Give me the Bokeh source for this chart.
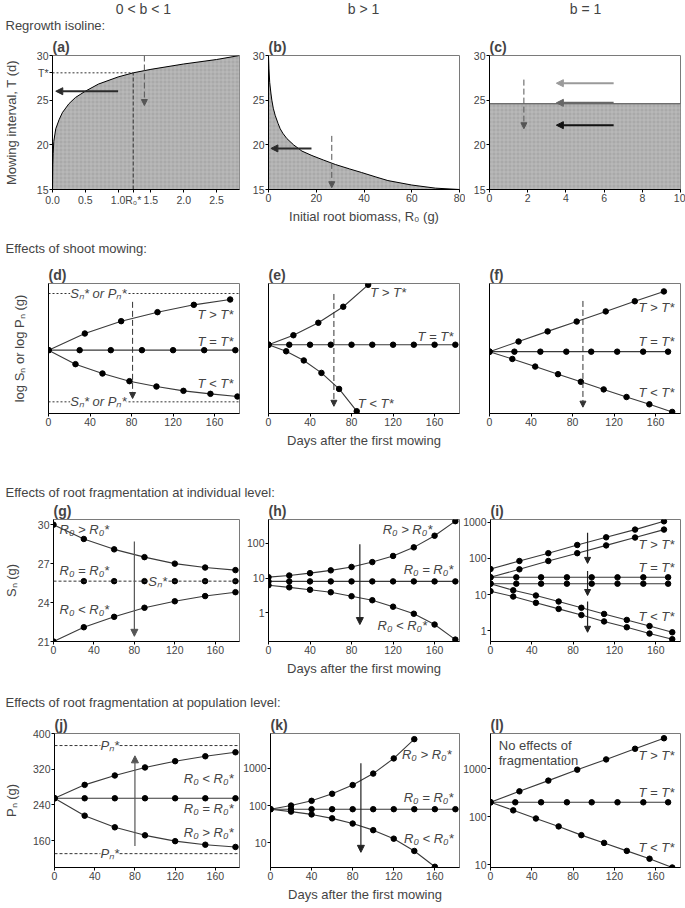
from bokeh.plotting import figure
from bokeh.layouts import column, row
from bokeh.models import Range1d, Label, Arrow, NormalHead, FixedTicker, NumeralTickFormatter, Span
from bokeh.embed import file_html
from bokeh.resources import INLINE

FONT = "Liberation Sans"

# ---------------- data ----------------
# (a) 0 < b < 1 regrowth isoline
a_R0 = [0, 0.005, 0.01, 0.02, 0.05, 0.1, 0.15, 0.25, 0.35, 0.5, 0.7, 1.0, 1.23, 1.5, 2.0, 2.5, 2.85]
a_T = [15, 17.8, 19.0, 20.4, 21.8, 22.8, 23.6, 24.6, 25.3, 26.0, 26.8, 27.6, 28.06, 28.45, 29.05, 29.55, 30.0]
a_Tstar = 28.06
a_R0star = 1.23
# (b) b > 1
b_R0 = [0, 0.2, 0.5, 1.0, 1.4, 2.0, 2.8, 4.0, 4.9, 6.0, 7.7, 10.5, 14, 18.2, 23, 28, 34, 39, 45, 50, 60, 70, 80]
b_T = [30, 28.5, 27.0, 25.8, 25.0, 24.1, 23.3, 22.4, 21.8, 21.3, 20.7, 20.0, 19.3, 18.8, 18.3, 17.8, 17.3, 16.9, 16.4, 16.0, 15.5, 15.15, 15.0]
# (c) b = 1
c_R0 = [0, 10]
c_T = [24.6, 24.6]
T_MIN = 15

# (d)
d_up_x = [0, 35, 70, 105, 140, 175]
d_up_y = [0, 50, 87, 114, 136, 152]
d_mid_x = [0, 30, 60, 90, 120, 150, 180]
d_mid_y = [0, 0, 0, 0, 0, 0, 0]
d_low_x = [0, 26, 52, 78, 104, 130, 156, 182]
d_low_y = [0, -42, -70, -93, -109, -122, -131, -139]
d_star = [170, -155]
# (e)
e_up_x = [0, 24, 48, 72, 96]
e_up_y = [0, 29, 67, 116, 183]
e_mid_x = [0, 20, 40, 60, 80, 100, 120, 140, 160, 180]
e_mid_y = [0, 0, 0, 0, 0, 0, 0, 0, 0, 0]
e_low_x = [0, 17, 34, 51, 68, 85]
e_low_y = [0, -20, -48, -86, -135, -203]
# (f)
f_up_x = [0, 28, 56, 84, 112, 140, 168]
f_up_y = [0, 32, 64, 95, 127, 159, 190]
f_mid_x = [0, 24, 49, 74, 98, 123, 148, 172]
f_mid_y = [0, 0, 0, 0, 0, 0, 0, 0]
f_low_x = [0, 22, 44, 66, 88, 110, 132, 154, 176]
f_low_y = [0, -23, -47, -71, -95, -119, -143, -166, -190]

# (g)
g_x = [0, 30, 60, 90, 120, 150, 180]
g_up = [30, 28.9, 28.1, 27.5, 27.0, 26.7, 26.5]
g_low = [21, 22.1, 22.9, 23.6, 24.1, 24.5, 24.8]
g_mid_x = [30, 60, 90, 120, 150, 180]
g_mid = [25.65, 25.65, 25.65, 25.65, 25.65, 25.65]
g_star = 25.65
# (h)
h_x = [0, 20, 40, 60, 80, 100, 120, 140, 160, 180]
h_up = [10.6, 11.8, 13.8, 16.6, 20.8, 28.7, 43, 76, 164, 430]
h_mid = [8.0, 8.0, 8.0, 8.0, 8.0, 8.0, 8.0, 8.0, 8.0, 8.0]
h_low = [6.2, 5.4, 4.6, 3.9, 3.0, 2.3, 1.5, 0.94, 0.46, 0.17]
# (i)
i_up_x = [0, 28, 56, 84, 112, 140, 168]
i_up1 = [51, 85, 140, 236, 385, 630, 1070]
i_up2 = [30, 50, 85, 140, 230, 380, 630]
i_mid_x = [0, 25, 49, 74, 98, 123, 148, 172]
i_mid1 = [30, 30, 30, 30, 30, 30, 30, 30]
i_mid2 = [20, 20, 20, 20, 20, 20, 20, 20]
i_low_x = [0, 22, 44, 66, 88, 110, 132, 154, 176]
i_low1 = [20, 13.1, 9.4, 6.4, 4.3, 2.9, 1.98, 1.34, 0.9]
i_low2 = [12.4, 8.8, 5.9, 4.0, 2.7, 1.8, 1.24, 0.83, 0.58]

# (j)
j_x = [0, 30, 60, 90, 120, 150, 180]
j_up = [255, 285, 306, 324, 338, 349, 358]
j_mid = [255, 255, 255, 255, 255, 255, 255]
j_low = [255, 216, 190, 172, 159, 151, 146]
j_star = [373, 131]
# (k)
k_up_x = [0, 20, 40, 60, 80, 100, 120, 140]
k_up = [80, 100, 134, 207, 354, 718, 1830, 6000]
k_mid_x = [0, 20, 40, 60, 80, 100, 120, 140, 160, 180]
k_mid = [80, 80, 80, 80, 80, 80, 80, 80, 80, 80]
k_low_x = [0, 20, 40, 60, 80, 100, 120, 140, 160]
k_low = [80, 69, 58, 45.5, 33, 22, 13, 6.1, 2.3]
# (l)
l_up_x = [0, 28, 56, 84, 112, 140, 168]
l_up = [200, 338, 565, 955, 1560, 2600, 4300]
l_mid_x = [0, 24, 49, 74, 98, 123, 148, 172]
l_mid = [200, 200, 200, 200, 200, 200, 200, 200]
l_low_x = [0, 22, 44, 66, 88, 110, 132, 154, 176]
l_low = [200, 136, 92, 63, 41.5, 28.6, 19.5, 13.4, 8.8]

DAY_TICKS = [0, 40, 80, 120, 160]

LINE_C = "#3a3a3a"
FILL_C = "#a9a9a9"

# ---------------- helpers ----------------
def panel(label, xr, yr, ylog, left, right, top, bottom, fw, fh, xticks, yticks):
    p = figure(width=left + fw + right, height=top + fh + bottom,
               x_range=Range1d(*xr), y_range=Range1d(*yr),
               y_axis_type="log" if ylog else "linear",
               toolbar_location=None, output_backend="svg",
               min_border_left=left, min_border_right=right,
               min_border_top=top, min_border_bottom=bottom, title=label)
    p.title.text_font = FONT
    p.title.text_font_size = "14px"
    p.title.text_font_style = "bold"
    p.title.align = "left"
    p.title.offset = 0
    p.title.standoff = 2
    p.outline_line_color = "#7a7a7a"
    p.outline_line_width = 1
    p.xgrid.visible = False
    p.ygrid.visible = False
    for ax in p.axis:
        ax.axis_line_color = "black"
        ax.major_tick_in = 0
        ax.major_tick_out = 3
        ax.minor_tick_line_color = None
        ax.major_label_text_font = FONT
        ax.major_label_text_font_size = "10.5px"
        ax.axis_label_text_font = FONT
        ax.axis_label_text_font_size = "13px"
        ax.axis_label_text_font_style = "normal"
        ax.major_label_standoff = 1
        ax.axis_label_standoff = 4
    p.xaxis.ticker = FixedTicker(ticks=xticks)
    p.yaxis.ticker = FixedTicker(ticks=yticks)
    return p


def series(p, x, y, lc=LINE_C, dash="solid", dots=True):
    p.line(x, y, line_color=lc, line_width=1.1, line_dash=dash)
    if dots:
        p.scatter(x, y, size=5.5, color="black")


def arrow(p, xs, ys, xe, ye, color="black", width=1.5, dash="solid", head=7):
    p.add_layout(Arrow(end=NormalHead(size=head, fill_color=color, line_color=color),
                       x_start=xs, y_start=ys, x_end=xe, y_end=ye,
                       line_color=color, line_width=width, line_dash=dash))


def lab(p, x, y, text, align="left", italic=True, bg=None, size="13px"):
    kw = {}
    if bg:
        kw = dict(background_fill_color=bg, background_fill_alpha=1.0)
    p.add_layout(Label(x=x, y=y, text=text, text_font=FONT, text_font_size=size,
                       text_font_style="italic" if italic else "normal",
                       text_align=align, text_baseline="middle", **kw))


def strip(h, items):
    p = figure(width=685, height=h, x_range=Range1d(0, 685), y_range=Range1d(0, h),
               toolbar_location=None, output_backend="svg", min_border=0,
               x_axis_type=None, y_axis_type=None)
    p.outline_line_color = None
    for (x, y, t, al, sz) in items:
        p.add_layout(Label(x=x, y=y, text=t, text_font=FONT, text_font_size=sz,
                           text_align=al, text_baseline="middle"))
    return p

FW = 191
# ---------------- row 1 ----------------
R1 = dict(top=22, bottom=42, fh=134)
pa = panel("(a)", (0, 2.85), (15, 30), False, 48, 6, R1["top"], R1["bottom"], FW, R1["fh"],
           [0, 0.5, 1.0, a_R0star, 1.5, 2.0, 2.5], [15, 20, 25, a_Tstar, 30])
pa.xaxis.formatter = NumeralTickFormatter(format="0.0")
pa.xaxis.major_label_overrides = {a_R0star: "R\u2080*"}
pa.yaxis.major_label_overrides = {a_Tstar: "T*"}
pa.yaxis.axis_label = "Mowing interval, T (d)"
pa.yaxis.axis_label_standoff = 15
pa.varea(x=a_R0, y1=T_MIN, y2=a_T, fill_color=FILL_C, hatch_pattern="+",
         hatch_color="#c4c4c4", hatch_scale=4, hatch_weight=0.6)
pa.line(a_R0, a_T, line_color="black", line_width=1)
pa.line([0, a_R0star], [a_Tstar, a_Tstar], line_color="#333", line_dash="2 2", line_width=1)
pa.line([a_R0star, a_R0star], [T_MIN, a_Tstar], line_color="#333", line_dash="4 2", line_width=1)
arrow(pa, 1.0, 26.0, 0.05, 26.0, color="#2b2b2b", width=2)
arrow(pa, 1.4, 30.0, 1.4, 24.4, color="#555", width=1, dash="6 3", head=6)

pb = panel("(b)", (0, 80), (15, 30), False, 23, 6, R1["top"], R1["bottom"], FW, R1["fh"],
           [0, 20, 40, 60, 80], [15, 20, 25, 30])
pb.xaxis.axis_label = "Initial root biomass, R\u2080 (g)"
pb.varea(x=b_R0, y1=T_MIN, y2=b_T, fill_color=FILL_C, hatch_pattern="+",
         hatch_color="#c4c4c4", hatch_scale=4, hatch_weight=0.6)
pb.line(b_R0, b_T, line_color="black", line_width=1)
arrow(pb, 18, 19.6, 1, 19.6, color="#2b2b2b", width=2)
arrow(pb, 26.5, 21.0, 26.5, 15.2, color="#555", width=1, dash="6 3", head=6)

pc = panel("(c)", (0, 10), (15, 30), False, 24, 5, R1["top"], R1["bottom"], FW, R1["fh"],
           [0, 2, 4, 6, 8, 10], [15, 20, 25, 30])
pc.varea(x=c_R0, y1=T_MIN, y2=c_T, fill_color=FILL_C, hatch_pattern="+",
         hatch_color="#c4c4c4", hatch_scale=4, hatch_weight=0.6)
pc.line(c_R0, c_T, line_color="#444", line_width=1.2)
arrow(pc, 6.5, 26.9, 3.5, 26.9, color="#9a9a9a", width=2)
arrow(pc, 6.5, 24.7, 3.5, 24.7, color="#666", width=2)
arrow(pc, 6.5, 22.2, 3.5, 22.2, color="#111", width=2)
arrow(pc, 1.8, 27.3, 1.8, 21.8, color="#555", width=1, dash="6 3", head=6)

# ---------------- row 2 ----------------
R2 = dict(top=25, bottom=42, fh=130)
pd_ = panel("(d)", (0, 184), (-190, 200), False, 48, 1, R2["top"], R2["bottom"], FW, R2["fh"], DAY_TICKS, [])
pd_.yaxis.axis_label = "log S\u2099 or log P\u2099 (g)"
pd_.yaxis.axis_label_standoff = 22
for s in d_star:
    pd_.add_layout(Span(location=s, dimension="width", line_color="#333", line_dash="2 2", line_width=1))
series(pd_, d_up_x, d_up_y)
series(pd_, d_mid_x, d_mid_y)
series(pd_, d_low_x, d_low_y)
arrow(pd_, 81, 145, 81, -145, color="#333", width=1, dash="6 3", head=6)
lab(pd_, 48, d_star[0], "S\u2099* or P\u2099*", "center", bg="white")
lab(pd_, 48, d_star[1], "S\u2099* or P\u2099*", "center", bg="white")
lab(pd_, 178, 108, "T > T*", "right")
lab(pd_, 178, 26, "T = T*", "right")
lab(pd_, 178, -100, "T < T*", "right")

pe = panel("(e)", (0, 184), (-210, 187), False, 28, 1, R2["top"], R2["bottom"], FW, R2["fh"], DAY_TICKS, [])
pe.xaxis.axis_label = "Days after the first mowing"
series(pe, e_up_x, e_up_y)
series(pe, e_mid_x, e_mid_y)
series(pe, e_low_x, e_low_y)
arrow(pe, 63, 155, 63, -188, color="#333", width=1, dash="6 3", head=6)
lab(pe, 98, 160, "T > T*", "left")
lab(pe, 178, 24, "T = T*", "right")
lab(pe, 86, -180, "T < T*", "left")

pf = panel("(f)", (0, 184), (-195, 215), False, 29, 5, R2["top"], R2["bottom"], FW, R2["fh"], DAY_TICKS, [])
series(pf, f_up_x, f_up_y)
series(pf, f_mid_x, f_mid_y)
series(pf, f_low_x, f_low_y)
arrow(pf, 90, 160, 90, -175, color="#333", width=1, dash="6 3", head=6)
lab(pf, 178, 140, "T > T*", "right")
lab(pf, 178, 32, "T = T*", "right")
lab(pf, 178, -128, "T < T*", "right")

# ---------------- row 3 ----------------
R3 = dict(top=18, bottom=42, fh=124)
pg = panel("(g)", (0, 184), (21, 30.4), False, 48, 1, R3["top"], R3["bottom"], FW, R3["fh"], DAY_TICKS, [21, 24, 27, 30])
pg.yaxis.axis_label = "S\u2099 (g)"
pg.yaxis.axis_label_standoff = 16
pg.add_layout(Span(location=g_star, dimension="width", line_color="#333", line_dash="3 2", line_width=1))
series(pg, g_x, g_up)
series(pg, g_x, g_low)
pg.scatter(g_mid_x, g_mid, size=5.5, color="black")
arrow(pg, 80, 28.7, 80, 21.4, color="#555", width=1.2)
lab(pg, 6, 29.6, "R\u2080 > R\u2080*", "left")
lab(pg, 6, 26.5, "R\u2080 = R\u2080*", "left")
lab(pg, 103, g_star, "S\u2099*", "center", bg="white")
lab(pg, 6, 23.5, "R\u2080 < R\u2080*", "left")

ph = panel("(h)", (0, 184), (0.15, 480), True, 28, 1, R3["top"], R3["bottom"], FW, R3["fh"], DAY_TICKS, [1, 10, 100])
ph.yaxis.formatter = NumeralTickFormatter(format="0")
ph.xaxis.axis_label = "Days after the first mowing"
series(ph, h_x, h_up)
series(ph, h_x, h_mid)
series(ph, h_x, h_low)
arrow(ph, 88, 94, 88, 0.46, color="#222", width=1.2)
lab(ph, 110, 240, "R\u2080 > R\u2080*", "left")
lab(ph, 178, 17, "R\u2080 = R\u2080*", "right")
lab(ph, 105, 0.42, "R\u2080 < R\u2080*", "left")

pi = panel("(i)", (0, 184), (0.5, 1200), True, 29, 5, R3["top"], R3["bottom"], FW, R3["fh"], DAY_TICKS, [1, 10, 100, 1000])
pi.yaxis.formatter = NumeralTickFormatter(format="0")
series(pi, i_up_x, i_up1)
series(pi, i_up_x, i_up2)
series(pi, i_mid_x, i_mid1)
series(pi, i_mid_x, i_mid2)
series(pi, i_low_x, i_low1)
series(pi, i_low_x, i_low2)
arrow(pi, 94, 514, 94, 73, color="#222", width=1.2, head=6)
arrow(pi, 94, 45, 94, 9.4, color="#222", width=1.2, head=6)
arrow(pi, 94, 6.4, 94, 0.9, color="#222", width=1.2, head=6)
lab(pi, 178, 236, "T > T*", "right")
lab(pi, 178, 55, "T = T*", "right")
lab(pi, 178, 2.4, "T < T*", "right")

# ---------------- row 4 ----------------
R4 = dict(top=21, bottom=40, fh=134)
pj = panel("(j)", (0, 184), (100, 400), False, 48, 1, R4["top"], R4["bottom"], FW, R4["fh"], DAY_TICKS, [160, 240, 320, 400])
pj.yaxis.axis_label = "P\u2099 (g)"
pj.yaxis.axis_label_standoff = 11
for s in j_star:
    pj.add_layout(Span(location=s, dimension="width", line_color="#333", line_dash="3 2", line_width=1))
series(pj, j_x, j_up)
series(pj, j_x, j_mid)
series(pj, j_x, j_low)
arrow(pj, 80, 148, 80, 350, color="#555", width=1.2)
lab(pj, 55, j_star[0], "P\u2099*", "center", bg="white")
lab(pj, 55, j_star[1], "P\u2099*", "center", bg="white")
lab(pj, 178, 300, "R\u2080 < R\u2080*", "right")
lab(pj, 178, 232, "R\u2080 = R\u2080*", "right")
lab(pj, 178, 178, "R\u2080 > R\u2080*", "right")

pk = panel("(k)", (0, 184), (2.2, 8500), True, 28, 1, R4["top"], R4["bottom"], FW, R4["fh"], DAY_TICKS, [10, 100, 1000])
pk.yaxis.formatter = NumeralTickFormatter(format="0")
pk.xaxis.axis_label = "Days after the first mowing"
series(pk, k_up_x, k_up)
series(pk, k_mid_x, k_mid)
series(pk, k_low_x, k_low)
arrow(pk, 88, 1360, 88, 5.6, color="#222", width=1.2)
lab(pk, 128, 2300, "R\u2080 > R\u2080*", "left")
lab(pk, 178, 165, "R\u2080 = R\u2080*", "right")
lab(pk, 130, 12.8, "R\u2080 < R\u2080*", "left")

pl = panel("(l)", (0, 184), (8.8, 5400), True, 29, 5, R4["top"], R4["bottom"], FW, R4["fh"], DAY_TICKS, [10, 100, 1000])
pl.yaxis.formatter = NumeralTickFormatter(format="0")
series(pl, l_up_x, l_up)
series(pl, l_mid_x, l_mid)
series(pl, l_low_x, l_low)
lab(pl, 8, 3000, "No effects of", "left", italic=False)
lab(pl, 8, 1450, "fragmentation", "left", italic=False)
lab(pl, 178, 1900, "T > T*", "right")
lab(pl, 178, 320, "T = T*", "right")
lab(pl, 178, 23, "T < T*", "right")

# ---------------- strips ----------------
HS = "14px"
SS = "13px"
s1 = strip(33, [(143, 25, "0 < b < 1", "center", HS), (363, 25, "b > 1", "center", HS),
                (585, 25, "b = 1", "center", HS), (5, 8, "Regrowth isoline:", "left", SS)])
s2 = strip(27, [(5, 10, "Effects of shoot mowing:", "left", SS)])
s3 = strip(44, [(5, 7, "Effects of root fragmentation at individual level:", "left", SS)])
s4 = strip(29, [(5, 10, "Effects of root fragmentation at population level:", "left", SS)])

layout = column(s1, row(pa, pb, pc), s2, row(pd_, pe, pf), s3, row(pg, ph, pi), s4, row(pj, pk, pl))

open("out.html", "w").write(file_html(layout, INLINE))
